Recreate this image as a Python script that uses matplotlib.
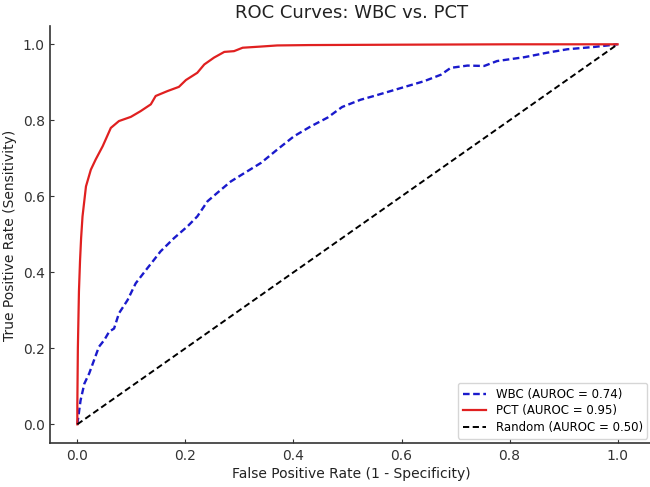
import matplotlib.pyplot as plt

# ROC points
wbc_fpr = [0.0, 0.006, 0.013, 0.022, 0.031, 0.040, 0.050, 0.059, 0.068, 0.077,
           0.093, 0.108, 0.127, 0.142, 0.154, 0.179, 0.204, 0.222, 0.241, 0.259,
           0.284, 0.309, 0.340, 0.370, 0.401, 0.432, 0.463, 0.490, 0.524, 0.549,
           0.599, 0.642, 0.673, 0.691, 0.722, 0.753, 0.777, 0.827, 0.870, 0.907,
           0.956, 1.0]
wbc_tpr = [0.0, 0.063, 0.107, 0.134, 0.169, 0.204, 0.222, 0.244, 0.252, 0.292,
           0.327, 0.371, 0.406, 0.433, 0.455, 0.490, 0.521, 0.547, 0.587, 0.609,
           0.639, 0.661, 0.688, 0.723, 0.758, 0.784, 0.807, 0.835, 0.854, 0.864,
           0.885, 0.903, 0.920, 0.938, 0.944, 0.943, 0.956, 0.966, 0.978, 0.987,
           0.993, 1.0]

pct_fpr = [0.0, 0.0, 0.001, 0.003, 0.005, 0.007, 0.0096, 0.016, 0.025, 0.034,
           0.047, 0.062, 0.077, 0.099, 0.117, 0.136, 0.145, 0.167, 0.188, 0.201,
           0.222, 0.235, 0.253, 0.272, 0.290, 0.306, 0.339, 0.370, 0.430, 0.60,
           0.80, 1.0]
pct_tpr = [0.0, 0.05, 0.2, 0.35, 0.43, 0.49, 0.547, 0.626, 0.670, 0.697,
           0.732, 0.780, 0.798, 0.809, 0.824, 0.842, 0.864, 0.877, 0.888, 0.906,
           0.925, 0.947, 0.965, 0.980, 0.982, 0.991, 0.994, 0.997, 0.998, 0.999,
           1.0, 1.0]

labels = ['WBC (AUROC = 0.74)', 'PCT (AUROC = 0.95)', 'Random (AUROC = 0.50)']

fig = plt.figure(figsize=(6.5, 4.87), dpi=100)
ax = fig.add_axes([0.0774, 0.0897, 0.926, 0.856])

ax.plot(wbc_fpr, wbc_tpr, linestyle='--', dashes=(2.8, 1.5), color='#1a1acc',
        lw=1.7, label=labels[0])
ax.plot(pct_fpr, pct_tpr, linestyle='-', color='#e02020', lw=1.6, label=labels[1])
ax.plot([0, 1], [0, 1], linestyle='--', dashes=(3.2, 1.8), color='black',
        lw=1.4, label=labels[2])

ax.set_xlim(-0.05, 1.064)
ax.set_ylim(-0.05, 1.047)
ax.set_xticks([0.0, 0.2, 0.4, 0.6, 0.8, 1.0])
ax.set_yticks([0.0, 0.2, 0.4, 0.6, 0.8, 1.0])

ax.set_title('ROC Curves: WBC vs. PCT', fontsize=13, color='#222222')
ax.set_xlabel('False Positive Rate (1 - Specificity)', fontsize=10, color='#222222', labelpad=3)
ax.set_ylabel('True Positive Rate (Sensitivity)', fontsize=10, color='#222222', labelpad=4)

for s in ['top', 'right']:
    ax.spines[s].set_visible(False)
for s in ['left', 'bottom']:
    ax.spines[s].set_color('#333333')
    ax.spines[s].set_linewidth(1.2)
ax.tick_params(direction='in', length=3, labelsize=10, colors='#333333', pad=4)

ax.legend(loc='lower right', fontsize=8.5, frameon=True, edgecolor='#cccccc',
          borderaxespad=0.4, handlelength=2.0, labelspacing=0.3)

plt.savefig('out.png', dpi=100)
